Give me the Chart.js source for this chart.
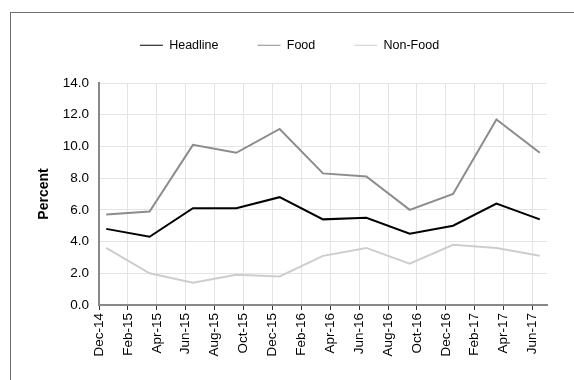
<!DOCTYPE html>
<html>
<head>
<meta charset="utf-8">
<title>Inflation</title>
<script src="https://cdn.jsdelivr.net/npm/chart.js@4/dist/chart.umd.min.js"></script>
<style>
  html, body { margin: 0; padding: 0; background: #fff; overflow: hidden; }
  #frame {
    position: absolute; left: 10px; top: 12px; width: 700px; height: 500px;
    border-top: 1px solid #6e6e6e; border-left: 1px solid #6e6e6e;
  }
  #wrap { position: absolute; left: 0; top: 0; width: 574px; height: 380px; }
</style>
</head>
<body>
<div id="frame"></div>
<div id="wrap"><canvas id="chart"></canvas></div>
<script>
const tickLabels = ["Dec-14", "Feb-15", "Apr-15", "Jun-15", "Aug-15", "Oct-15", "Dec-15", "Feb-16",
                    "Apr-16", "Jun-16", "Aug-16", "Oct-16", "Dec-16", "Feb-17", "Apr-17", "Jun-17"];
const periods = ["Dec-14", "Mar-15", "Jun-15", "Sep-15", "Dec-15", "Mar-16",
                 "Jun-16", "Sep-16", "Dec-16", "Mar-17", "Jun-17"];
const headline = [4.8, 4.3, 6.1, 6.1, 6.8, 5.4, 5.5, 4.5, 5.0, 6.4, 5.4];
const food     = [5.7, 5.9, 10.1, 9.6, 11.1, 8.3, 8.1, 6.0, 7.0, 11.7, 9.6];
const nonFood  = [3.6, 2.0, 1.4, 1.9, 1.8, 3.1, 3.6, 2.6, 3.8, 3.6, 3.1];

const MONTHS = ["Jan", "Feb", "Mar", "Apr", "May", "Jun", "Jul", "Aug", "Sep", "Oct", "Nov", "Dec"];
const FONT = "'Liberation Sans', Arial, sans-serif";

// months counted from Dec-14, each month is one slot and the point sits mid-slot
function monthSlot(label) {
    const [m, y] = label.split("-");
    return (parseInt(y) - 14) * 12 + MONTHS.indexOf(m) - 11 + 0.5;
}

function series(values) {
    return values.map((v, i) => ({ x: monthSlot(periods[i]), y: v }));
}

// keep a fixed gap between the legend row and the plot
const legendSpacer = {
    id: "legendSpacer",
    afterInit(chart) {
        const legend = chart.legend;
        if (!legend) return;
        const fit = legend.fit;
        legend.fit = function () {
            fit.call(this);
            this.height = 83;
        };
    }
};

const ctx = document.getElementById("chart").getContext("2d");

new Chart(ctx, {
    type: "line",
    data: {
        datasets: [
            { label: "Headline", data: series(headline), borderColor: "#000000", backgroundColor: "#000000" },
            { label: "Food", data: series(food), borderColor: "#8c8c8c", backgroundColor: "#8c8c8c" },
            { label: "Non-Food", data: series(nonFood), borderColor: "#cdcdcd", backgroundColor: "#cdcdcd" }
        ]
    },
    options: {
        responsive: true,
        maintainAspectRatio: false,
        animation: false,
        elements: {
            line: { borderWidth: 2, tension: 0 },
            point: { radius: 0, hoverRadius: 0 }
        },
        layout: { padding: { left: 32, right: 27, top: 0, bottom: 0 } },
        plugins: {
            legend: {
                position: "top",
                labels: {
                    usePointStyle: true,
                    pointStyle: "line",
                    pointStyleWidth: 23,
                    padding: 39,
                    color: "#000",
                    font: { family: FONT, size: 12.5 }
                }
            },
            tooltip: { enabled: false }
        },
        scales: {
            x: {
                type: "linear",
                min: 0,
                max: 31,
                afterFit: function (scale) { scale.height = 75; },
                ticks: {
                    stepSize: 2,
                    includeBounds: false,
                    autoSkip: false,
                    minRotation: 90,
                    maxRotation: 90,
                    padding: 3,
                    color: "#000",
                    font: { family: FONT, size: 13.5 },
                    callback: value => tickLabels[value / 2]
                },
                grid: { color: "#e4e4e4", tickColor: "#333", tickLength: 5 },
                border: { color: "#888", width: 2 }
            },
            y: {
                min: 0,
                max: 14,
                afterFit: function (scale) { scale.width = 67; },
                ticks: {
                    stepSize: 2,
                    padding: 10,
                    color: "#000",
                    font: { family: FONT, size: 13.5 },
                    callback: value => value.toFixed(1)
                },
                grid: { color: "#e4e4e4", drawTicks: false },
                border: { color: "#888", width: 2 },
                title: {
                    display: true,
                    text: "Percent",
                    color: "#000",
                    font: { family: FONT, size: 14, weight: "bold" },
                    padding: { top: 4, bottom: 0 }
                }
            }
        }
    },
    plugins: [legendSpacer]
});
</script>
</body>
</html>
